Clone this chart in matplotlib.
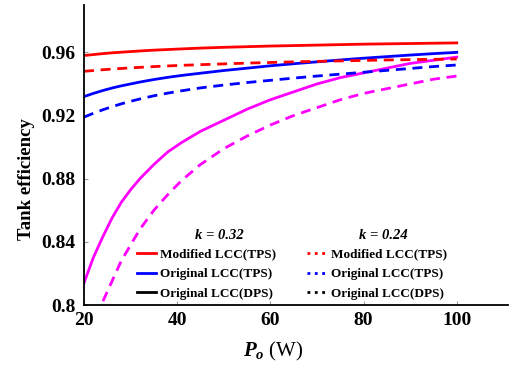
import matplotlib
matplotlib.use('Agg')
import matplotlib.pyplot as plt
from matplotlib.lines import Line2D

plt.rcParams['font.family'] = 'Liberation Serif'
plt.rcParams['font.weight'] = 'bold'
plt.rcParams['mathtext.fontset'] = 'custom'
plt.rcParams['mathtext.it'] = 'Liberation Serif:italic:bold'
plt.rcParams['mathtext.rm'] = 'Liberation Serif'

# Output power (W)
p_o = [20, 22, 24, 26, 28, 30, 32, 35, 38, 41, 45, 50, 55, 60, 65, 70, 75, 80, 85, 90, 95, 100]

# k = 0.32 (solid)
mod_tps_032 = [0.958, 0.9586, 0.9592, 0.9597, 0.9601, 0.9605, 0.9609, 0.9614, 0.9618, 0.9622, 0.9627,
               0.9632, 0.9636, 0.964, 0.9643, 0.9646, 0.9649, 0.9652, 0.9654, 0.9656, 0.9658, 0.966]
orig_tps_032 = [0.932, 0.934, 0.9358, 0.9374, 0.9388, 0.940, 0.9412, 0.9428, 0.9442, 0.9454, 0.9468,
                0.9485, 0.950, 0.9515, 0.9528, 0.954, 0.9552, 0.9563, 0.9573, 0.9583, 0.9592, 0.960]
orig_dps_032 = [0.814, 0.830, 0.843, 0.855, 0.865, 0.873, 0.880, 0.889, 0.897, 0.903, 0.910,
                0.917, 0.924, 0.930, 0.935, 0.940, 0.944, 0.947, 0.950, 0.953, 0.955, 0.957]

# k = 0.24 (dashed)
mod_tps_024 = [0.948, 0.9485, 0.949, 0.9494, 0.9498, 0.9502, 0.9505, 0.951, 0.9514, 0.9518, 0.9522,
               0.9527, 0.9532, 0.9536, 0.954, 0.9543, 0.9546, 0.9549, 0.9552, 0.9554, 0.9556, 0.9558]
orig_tps_024 = [0.919, 0.9214, 0.9236, 0.9256, 0.9274, 0.929, 0.9305, 0.9325, 0.9342, 0.9357, 0.9375,
                0.9393, 0.9409, 0.9423, 0.9437, 0.945, 0.9462, 0.9474, 0.9486, 0.9498, 0.951, 0.952]
orig_dps_024 = [0.762, 0.783, 0.802, 0.815, 0.828, 0.838, 0.848, 0.860, 0.870, 0.879, 0.889,
                0.899, 0.907, 0.914, 0.920, 0.925, 0.930, 0.934, 0.937, 0.940, 0.943, 0.945]

labels = ['Modified LCC(TPS)', 'Original LCC(TPS)', 'Original LCC(DPS)']
legend_colors = ['#ff0000', '#0000ff', '#000000']
x_ticks = [20, 40, 60, 80, 100]
y_ticks = [0.8, 0.84, 0.88, 0.92, 0.96]
y_tick_labels = ['0.8', '0.84', '0.88', '0.92', '0.96']

fig = plt.figure(figsize=(5.15, 3.68), dpi=100)
ax = fig.add_axes([84 / 515, 1 - 305 / 368, 424 / 515, 300 / 368])

lw = 2.0
dash = (3.6, 2.4)
ax.plot(p_o, mod_tps_032, color='#ff0000', lw=lw)
ax.plot(p_o, orig_tps_032, color='#0000ff', lw=lw)
ax.plot(p_o, orig_dps_032, color='#ff00ff', lw=lw)
ax.plot(p_o, mod_tps_024, color='#ff0000', lw=lw, dashes=dash)
ax.plot(p_o, orig_tps_024, color='#0000ff', lw=lw, dashes=dash)
ax.plot(p_o, orig_dps_024, color='#ff00ff', lw=lw, dashes=dash)

ax.set_xlim(20, 111)
ax.set_ylim(0.8, 0.99)
ax.set_xticks(x_ticks)
ax.set_yticks(y_ticks)
ax.set_yticklabels(y_tick_labels)
ax.tick_params(direction='in', length=3, width=0.8, labelsize=14, color='#999999')
ax.tick_params(axis='x', pad=5)
ax.tick_params(axis='y', pad=6)

for s in ['top', 'right']:
    ax.spines[s].set_visible(False)
for s in ['left', 'bottom']:
    ax.spines[s].set_linewidth(1.3)

# arrow heads at the end of the axes
ax.plot(1, 0, '>k', ms=9, transform=ax.get_yaxis_transform(), clip_on=False)
ax.plot(0, 1, '^k', ms=9, transform=ax.get_xaxis_transform(), clip_on=False)

ax.set_xlabel(r'$P_o$ (W)', fontsize=15, fontweight='normal')
ax.xaxis.set_label_coords(0.447, -0.115)
ax.set_ylabel('Tank efficiency', fontsize=13.5, fontweight='bold')
ax.yaxis.set_label_coords(-0.115, 0.42)

handles = [Line2D([], [], color=c, lw=2) for c in legend_colors]
handles += [Line2D([], [], color=c, lw=2, ls=':') for c in legend_colors]
leg = ax.legend(handles, labels + labels, ncol=2, frameon=False,
                loc='upper left', bbox_to_anchor=(0.124, 0.19),
                borderaxespad=0, borderpad=0, handlelength=1.5,
                handletextpad=0.25, columnspacing=2.4, labelspacing=0.58,
                prop={'family': 'Liberation Serif', 'weight': 'bold', 'size': 9.5})

ax.text(0.32, 0.233, 'k = 0.32', transform=ax.transAxes, ha='center', va='center',
        fontsize=10.5, fontweight='bold', fontstyle='italic')
ax.text(0.705, 0.233, 'k = 0.24', transform=ax.transAxes, ha='center', va='center',
        fontsize=10.5, fontweight='bold', fontstyle='italic')

fig.savefig('out.png', dpi=100)
